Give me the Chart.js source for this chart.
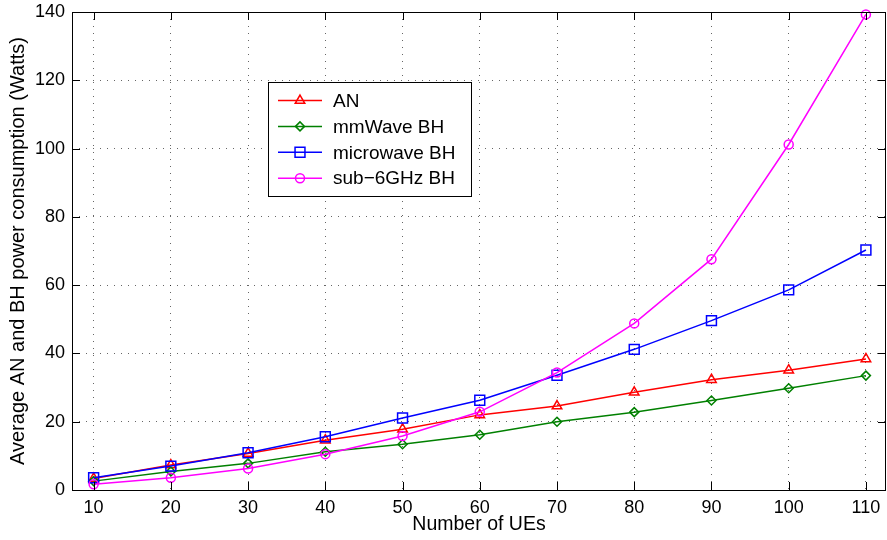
<!DOCTYPE html>
<html>
<head>
<meta charset="utf-8">
<script src="https://cdn.jsdelivr.net/npm/chart.js@4/dist/chart.umd.min.js"></script>
<style>
  html, body { margin:0; padding:0; background:#fff; }
  #wrap { width:887px; height:540px; }
</style>
</head>
<body>
<div id="wrap"><canvas id="chart" width="887" height="540"></canvas></div>
<script>
// ===== DATA =====
const UEs        = [10, 20, 30, 40, 50, 60, 70, 80, 90, 100, 110];
const AN         = [3.4, 7.3, 10.7, 14.6, 17.8, 22.0, 24.6, 28.6, 32.3, 35.1, 38.4];
const mmWaveBH   = [2.6, 5.4, 7.8, 11.2, 13.4, 16.2, 20.0, 22.8, 26.2, 29.8, 33.5];
const microBH    = [3.6, 7.0, 10.9, 15.6, 21.1, 26.3, 33.6, 41.2, 49.6, 58.6, 70.3];
const sub6BH     = [1.7, 3.6, 6.3, 10.5, 15.8, 22.9, 34.4, 48.8, 67.6, 101.2, 139.3];
const xTicks     = [10, 20, 30, 40, 50, 60, 70, 80, 90, 100, 110];
const yTicks     = [0, 20, 40, 60, 80, 100, 120, 140];

const FONT = '"Liberation Sans", Arial, Helvetica, sans-serif';
const pts = ys => UEs.map((x, i) => ({ x, y: ys[i] }));

// ===== SERIES =====
const series = [
  { label:'AN',            data:pts(AN),       borderColor:'#ff0000', pointStyle:'triangle', pointRadius:5.5, order:4 },
  { label:'mmWave BH',     data:pts(mmWaveBH), borderColor:'#008000', pointStyle:'rectRot',  pointRadius:4.5, order:3 },
  { label:'microwave BH',  data:pts(microBH),  borderColor:'#0000ff', pointStyle:'rect',     pointRadius:7,   order:2 },
  { label:'sub\u22126GHz BH', data:pts(sub6BH), borderColor:'#ff00ff', pointStyle:'circle',  pointRadius:4.5, order:1 }
].map(s => Object.assign(s, {
  backgroundColor:'rgba(0,0,0,0)', pointBackgroundColor:'rgba(0,0,0,0)',
  pointBorderColor:s.borderColor, borderWidth:1.5, pointBorderWidth:1.5,
  pointHoverRadius:s.pointRadius, tension:0, clip:false
}));

// ===== PLUGINS =====
// box around plot + inward tick marks on all four sides (matlab style)
const frame = {
  id:'frame',
  afterDatasetsDraw(chart){
    const {ctx, chartArea:a, scales:{x, y}} = chart;
    const L = 8;
    ctx.save();
    ctx.strokeStyle = '#000'; ctx.lineWidth = 1;
    ctx.beginPath();
    xTicks.forEach(v => {
      const px = Math.round(x.getPixelForValue(v)) + 0.5;
      ctx.moveTo(px, a.bottom); ctx.lineTo(px, a.bottom - L);
      ctx.moveTo(px, a.top);    ctx.lineTo(px, a.top + L);
    });
    yTicks.forEach(v => {
      const py = Math.round(y.getPixelForValue(v)) + 0.5;
      ctx.moveTo(a.left, py);  ctx.lineTo(a.left + L, py);
      ctx.moveTo(a.right, py); ctx.lineTo(a.right - L, py);
    });
    ctx.stroke();
    ctx.strokeRect(Math.round(a.left) + 0.5, Math.round(a.top) + 0.5,
                   Math.round(a.right - a.left) - 1, Math.round(a.bottom - a.top));
    ctx.restore();
  }
};

// legend box inside the axes
const legendBox = {
  id:'legendBox',
  afterDraw(chart){
    const ctx = chart.ctx;
    const bx = 268, by = 82, bw = 203, bh = 114, rowH = 25.9, y0 = 100.5;
    ctx.save();
    ctx.fillStyle = '#fff';
    ctx.fillRect(bx, by, bw, bh);
    ctx.strokeStyle = '#000'; ctx.lineWidth = 1;
    ctx.strokeRect(bx + 0.5, by + 0.5, bw, bh);
    ctx.font = '19px ' + FONT;
    ctx.textBaseline = 'middle';
    chart.data.datasets.forEach((ds, i) => {
      const yy = y0 + i * rowH;
      ctx.strokeStyle = ds.borderColor; ctx.lineWidth = 1.5;
      ctx.beginPath(); ctx.moveTo(278, yy); ctx.lineTo(322, yy); ctx.stroke();
      ctx.fillStyle = 'rgba(0,0,0,0)';
      Chart.helpers.drawPoint(ctx, { pointStyle:ds.pointStyle, radius:ds.pointRadius, borderWidth:1.5 }, 300, yy);
      ctx.fillStyle = '#000';
      ctx.fillText(ds.label, 333, yy + 1);
    });
    ctx.restore();
  }
};

// ===== CHART =====
new Chart(document.getElementById('chart'), {
  type:'line',
  data:{ datasets:series },
  plugins:[frame, legendBox],
  options:{
    responsive:false, animation:false,
    layout:{ autoPadding:false, padding:{ top:12, right:1, left:0, bottom:0 } },
    plugins:{ legend:{ display:false }, tooltip:{ enabled:false } },
    scales:{
      x:{
        type:'linear', min:7.2, max:112.6,
        afterBuildTicks: s => { s.ticks = xTicks.map(v => ({ value:v })); },
        afterFit: s => { s.height = 50; s.paddingLeft = 0; s.paddingRight = 0; },
        grid:{ color:'rgba(0,0,0,0.6)', lineWidth:1, drawTicks:false },
        border:{ display:false, dash:[1,6] },
        ticks:{ color:'#000', padding:7, font:{ family:FONT, size:18 }, maxRotation:0 },
        title:{ display:true, text:'Number of UEs', color:'#000', font:{ family:FONT, size:19.5 }, padding:{ top:0, bottom:4 } }
      },
      y:{
        type:'linear', min:0, max:140,
        afterBuildTicks: s => { s.ticks = yTicks.map(v => ({ value:v })); },
        afterFit: s => { s.width = 72; s.paddingTop = 0; s.paddingBottom = 0; },
        grid:{ color:'rgba(0,0,0,0.6)', lineWidth:1, drawTicks:false },
        border:{ display:false, dash:[1,6] },
        ticks:{ color:'#000', padding:7, font:{ family:FONT, size:18 } },
        title:{ display:true, text:'Average AN and BH power consumption (Watts)', color:'#000', font:{ family:FONT, size:20 }, padding:{ top:6, bottom:0 } }
      }
    }
  }
});
</script>
</body>
</html>
